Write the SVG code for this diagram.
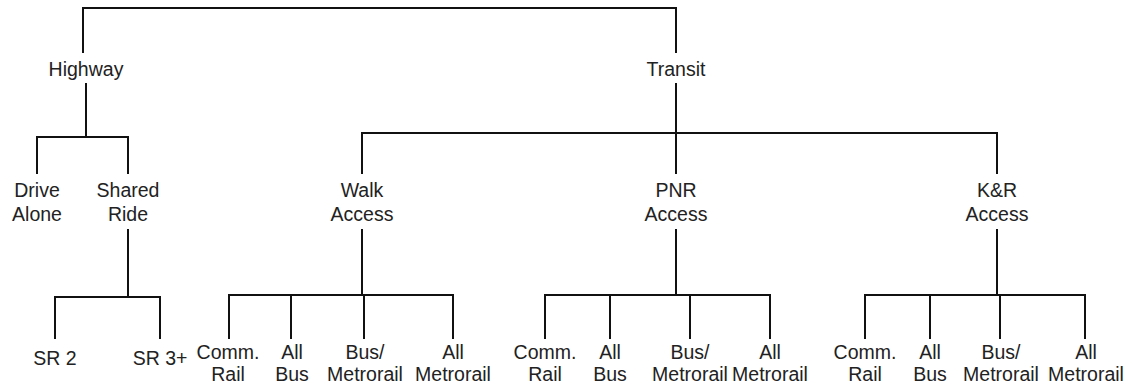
<svg xmlns="http://www.w3.org/2000/svg" width="1133" height="392" viewBox="0 0 1133 392">
<style>
.c{fill:none;stroke:#111;stroke-width:2;stroke-linecap:square}
text{font-family:"Liberation Sans",Arial,sans-serif;font-size:19.5px;fill:#222;text-anchor:middle}
</style>
<rect width="1133" height="392" fill="#fff"/>
<g id="connectors" class="c">
<path d="M83,52 V8 H676 V52"/>
<path d="M86,84 V137 M37,173 V137 H128 V173"/>
<path d="M128,230 V297 M55,338 V297 H160 V338"/>
<path d="M676,84 V173 M362,173 V133 H997 V173"/>
<path d="M362,230 V295 M229,338 V295 H453 V338 M291,295 V338 M364,295 V338"/>
<path d="M676,230 V295 M545,338 V295 H770 V338 M610,295 V338 M690,295 V338"/>
<path d="M997,230 V295 M865,338 V295 H1085 V338 M930,295 V338 M1000,295 V338"/>
</g>
<g id="highway"><text x="86" y="76">Highway</text></g>
<g id="transit"><text x="676" y="76">Transit</text></g>
<g id="drive-alone"><text x="37" y="197">Drive</text><text x="37" y="221">Alone</text></g>
<g id="shared-ride"><text x="128" y="197">Shared</text><text x="128" y="221">Ride</text></g>
<g id="walk-access"><text x="362" y="197">Walk</text><text x="362" y="221">Access</text></g>
<g id="pnr-access"><text x="676" y="197">PNR</text><text x="676" y="221">Access</text></g>
<g id="kr-access"><text x="997" y="197">K&amp;R</text><text x="997" y="221">Access</text></g>
<g id="sr2"><text x="55" y="365">SR 2</text></g>
<g id="sr3"><text x="160" y="365">SR 3+</text></g>
<g id="walk-comm-rail"><text x="228" y="359">Comm.</text><text x="228" y="381">Rail</text></g>
<g id="walk-all-bus"><text x="292" y="359">All</text><text x="292" y="381">Bus</text></g>
<g id="walk-bus-metrorail"><text x="365" y="359">Bus/</text><text x="365" y="381">Metrorail</text></g>
<g id="walk-all-metrorail"><text x="453" y="359">All</text><text x="453" y="381">Metrorail</text></g>
<g id="pnr-comm-rail"><text x="545" y="359">Comm.</text><text x="545" y="381">Rail</text></g>
<g id="pnr-all-bus"><text x="610" y="359">All</text><text x="610" y="381">Bus</text></g>
<g id="pnr-bus-metrorail"><text x="690" y="359">Bus/</text><text x="690" y="381">Metrorail</text></g>
<g id="pnr-all-metrorail"><text x="770" y="359">All</text><text x="770" y="381">Metrorail</text></g>
<g id="kr-comm-rail"><text x="865" y="359">Comm.</text><text x="865" y="381">Rail</text></g>
<g id="kr-all-bus"><text x="930" y="359">All</text><text x="930" y="381">Bus</text></g>
<g id="kr-bus-metrorail"><text x="1001" y="359">Bus/</text><text x="1001" y="381">Metrorail</text></g>
<g id="kr-all-metrorail"><text x="1086" y="359">All</text><text x="1086" y="381">Metrorail</text></g>
</svg>
